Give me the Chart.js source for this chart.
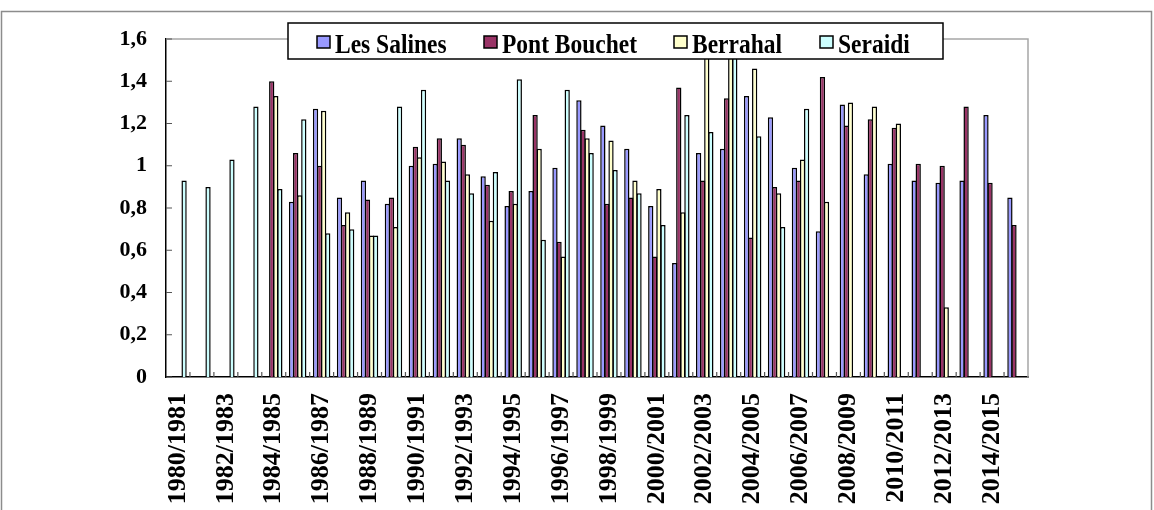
<!DOCTYPE html>
<html>
<head>
<meta charset="utf-8">
<script src="https://cdn.jsdelivr.net/npm/chart.js@4.4.1/dist/chart.umd.min.js"></script>
<style>
    html, body { margin: 0; padding: 0; background: #fff; }
    #wrap { width: 1154px; height: 510px; }
</style>
</head>
<body>
<div id="wrap"><canvas id="chart" width="1154" height="510"></canvas></div>
<script>
// seasons on the x axis (only every other one gets a label)
const seasons = [
    "1980/1981", "1981/1982", "1982/1983", "1983/1984", "1984/1985", "1985/1986",
    "1986/1987", "1987/1988", "1988/1989", "1989/1990", "1990/1991", "1991/1992",
    "1992/1993", "1993/1994", "1994/1995", "1995/1996", "1996/1997", "1997/1998",
    "1998/1999", "1999/2000", "2000/2001", "2001/2002", "2002/2003", "2003/2004",
    "2004/2005", "2005/2006", "2006/2007", "2007/2008", "2008/2009", "2009/2010",
    "2010/2011", "2011/2012", "2012/2013", "2013/2014", "2014/2015", "2015/2016"
];

const lesSalines = [
    null, null, null, null, null, 0.83,
    1.27, 0.85, 0.93, 0.82, 1.00, 1.01,
    1.13, 0.95, 0.81, 0.88, 0.99, 1.31,
    1.19, 1.08, 0.81, 0.54, 1.06, 1.08,
    1.33, 1.23, 0.99, 0.69, 1.29, 0.96,
    1.01, 0.93, 0.92, 0.93, 1.24, 0.85
];
const pontBouchet = [
    null, null, null, null, 1.40, 1.06,
    1.00, 0.72, 0.84, 0.85, 1.09, 1.13,
    1.10, 0.91, 0.88, 1.24, 0.64, 1.17,
    0.82, 0.85, 0.57, 1.37, 0.93, 1.32,
    0.66, 0.90, 0.93, 1.42, 1.19, 1.22,
    1.18, 1.01, 1.00, 1.28, 0.92, 0.72
];
const berrahal = [
    null, null, null, null, 1.33, 0.86,
    1.26, 0.78, 0.67, 0.71, 1.04, 1.02,
    0.96, 0.74, 0.82, 1.08, 0.57, 1.13,
    1.12, 0.93, 0.89, 0.78, 1.55, 1.55,
    1.46, 0.87, 1.03, 0.83, 1.30, 1.28,
    1.20, null, 0.33, null, null, null
];
const seraidi = [
    0.93, 0.90, 1.03, 1.28, 0.89, 1.22,
    0.68, 0.70, 0.67, 1.28, 1.36, 0.93,
    0.87, 0.97, 1.41, 0.65, 1.36, 1.06,
    0.98, 0.87, 0.72, 1.24, 1.16, 1.55,
    1.14, 0.71, 1.27, null, null, null,
    null, null, null, null, null, null
];

const seriesNames = ["Les Salines", "Pont Bouchet", "Berrahal", "Seraidi"];
const seriesColors = ["#9999ff", "#993366", "#ffffcc", "#ccffff"];
const yMin = 0, yMax = 1.6, yStep = 0.2;

const serif = "'Liberation Serif', 'Times New Roman', serif";

// page frame, plot border, inner tick marks
const framePlugin = {
    id: "frame",
    beforeDraw(chart) {
        const ctx = chart.ctx;
        ctx.save();
        ctx.fillStyle = "#fff";
        ctx.fillRect(0, 0, chart.width, chart.height);
        ctx.strokeStyle = "#8c8c8c";
        ctx.lineWidth = 1.5;
        ctx.strokeRect(1.5, 11.5, chart.width - 4, chart.height + 20);
        ctx.restore();
    },
    afterDatasetsDraw(chart) {
        const ctx = chart.ctx;
        const area = chart.chartArea;
        const xs = chart.scales.x, ys = chart.scales.y;
        ctx.save();
        // top and right edges of the plot area
        ctx.strokeStyle = "#a6a6a6";
        ctx.lineWidth = 1.5;
        ctx.beginPath();
        ctx.moveTo(area.left, area.top);
        ctx.lineTo(area.right, area.top);
        ctx.lineTo(area.right, area.bottom);
        ctx.stroke();
        // tick marks drawn inside the plot
        ctx.strokeStyle = "#555";
        ctx.lineWidth = 1.2;
        ctx.beginPath();
        ys.ticks.forEach(t => {
            const y = ys.getPixelForValue(t.value);
            ctx.moveTo(area.left, y);
            ctx.lineTo(area.left + 6, y);
        });
        for (let i = 1; i < seasons.length; i++) {
            const x = xs.getPixelForValue(i - 0.5);
            ctx.moveTo(x, area.bottom);
            ctx.lineTo(x, area.bottom - 5);
        }
        ctx.stroke();
        ctx.restore();
    }
};

// legend box sitting over the top of the plot
const legendPlugin = {
    id: "boxLegend",
    afterDraw(chart) {
        const ctx = chart.ctx;
        const itemX = [317, 484, 674, 820];
        ctx.save();
        ctx.fillStyle = "#fff";
        ctx.fillRect(288, 23, 655, 36);
        ctx.strokeStyle = "#000";
        ctx.lineWidth = 1.5;
        ctx.strokeRect(288, 23, 655, 36);
        chart.data.datasets.forEach((ds, i) => {
            const x = itemX[i];
            ctx.fillStyle = ds.backgroundColor;
            ctx.fillRect(x, 36, 13, 12);
            ctx.lineWidth = 1.5;
            ctx.strokeStyle = "#000";
            ctx.strokeRect(x, 36, 13, 12);
            ctx.save();
            ctx.translate(x + 18, 53);
            ctx.scale(0.87, 1);
            ctx.fillStyle = "#000";
            ctx.font = "bold 27px " + serif;
            ctx.textBaseline = "alphabetic";
            ctx.fillText(ds.label, 0, 0);
            ctx.restore();
        });
        ctx.restore();
    }
};

const datasets = [lesSalines, pontBouchet, berrahal, seraidi].map((values, i) => ({
    label: seriesNames[i],
    data: values,
    backgroundColor: seriesColors[i],
    borderColor: "#000",
    borderWidth: 1.5,
    borderSkipped: "start",
    categoryPercentage: 0.68,
    barPercentage: 1.3
}));

new Chart(document.getElementById("chart"), {
    type: "bar",
    data: { labels: seasons, datasets: datasets },
    options: {
        responsive: false,
        animation: false,
        devicePixelRatio: 1,
        layout: { padding: { top: 39, right: 126, left: 0, bottom: 0 } },
        plugins: {
            legend: { display: false },
            tooltip: { enabled: false }
        },
        scales: {
            x: {
                grid: { display: false, drawTicks: false },
                border: { display: true, color: "#000", width: 1.5 },
                ticks: {
                    autoSkip: false,
                    minRotation: 90,
                    maxRotation: 90,
                    padding: 16,
                    color: "#000",
                    font: { family: serif, size: 26, weight: "bold" },
                    callback: (val, i) => (i % 2 === 0 ? seasons[i] : "")
                },
                afterFit: scale => { scale.height = 133; }
            },
            y: {
                min: yMin,
                max: yMax,
                grid: { display: false, drawTicks: false },
                border: { display: true, color: "#000", width: 1.5 },
                ticks: {
                    stepSize: yStep,
                    padding: 19,
                    color: "#000",
                    font: { family: serif, size: 22, weight: "bold" },
                    callback: v => String(Math.round(v * 10) / 10).replace(".", ",")
                },
                afterFit: scale => { scale.width = 166; }
            }
        }
    },
    plugins: [framePlugin, legendPlugin]
});
</script>
</body>
</html>
